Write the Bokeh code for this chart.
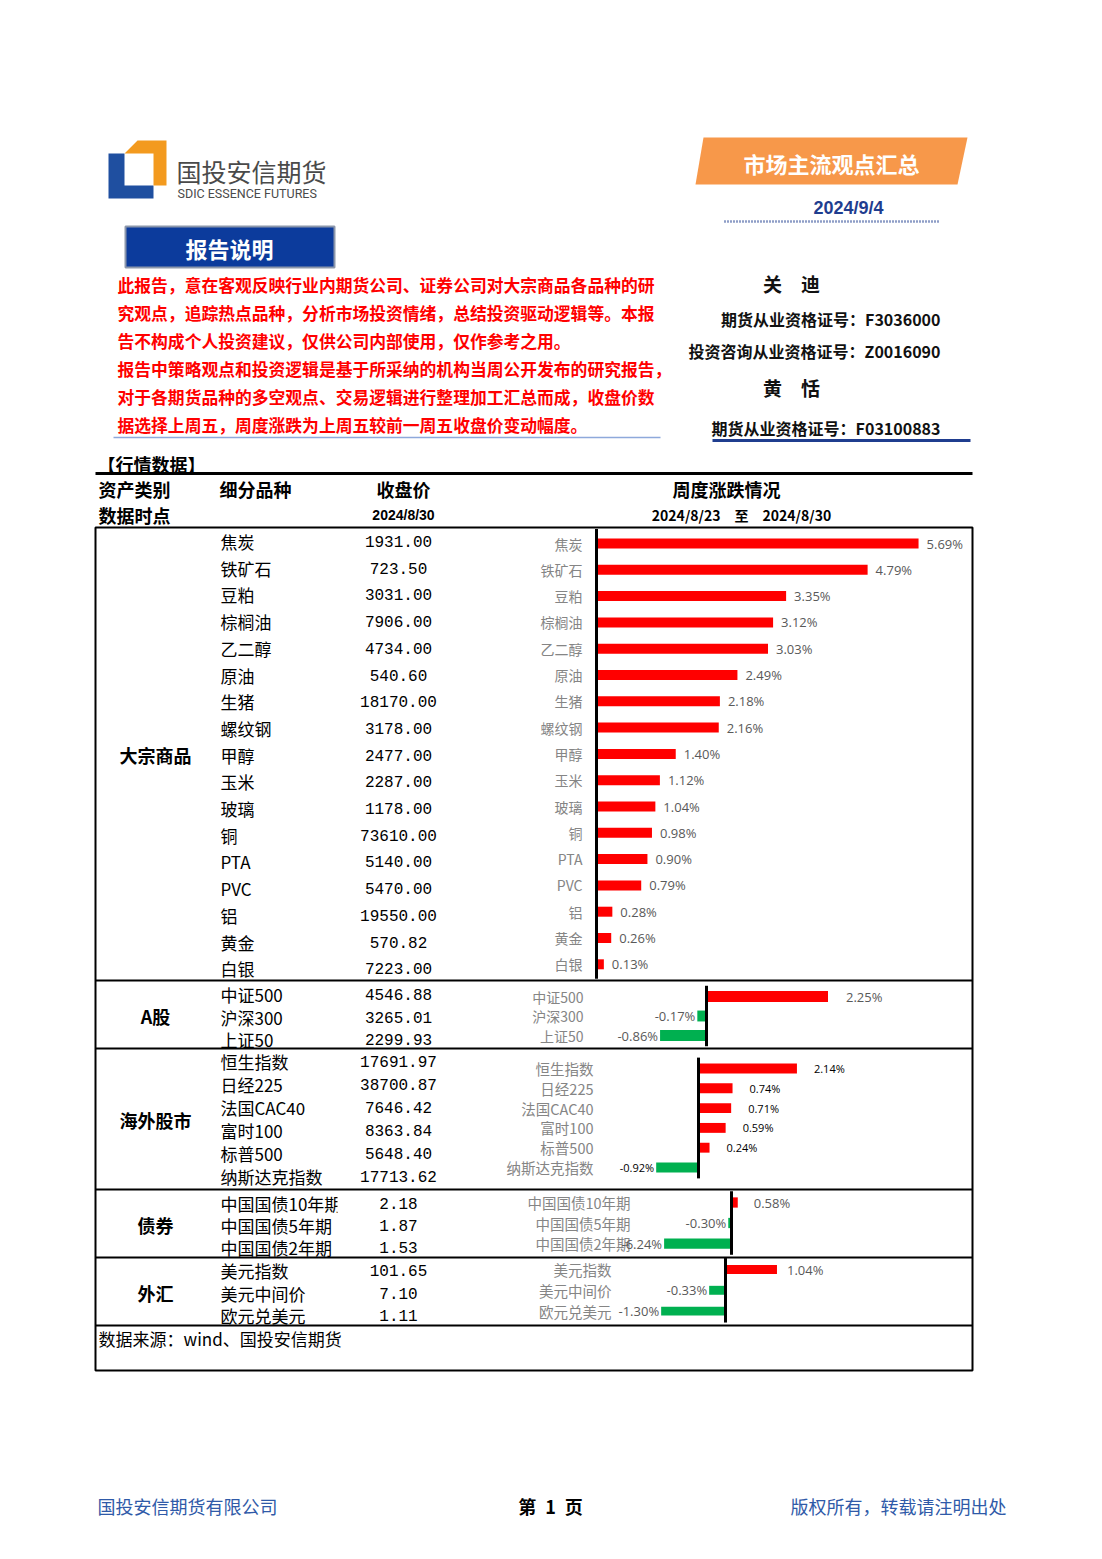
from bokeh.plotting import figure
from bokeh.models import Range1d, ColumnDataSource
from bokeh.embed import file_html
from bokeh.resources import INLINE
from bokeh.core.properties import value

# ---------------- data ----------------
report_date = "2024/9/4"
close_date = "2024/8/30"
week_span = "2024/8/23\u2002\u2002至\u2002\u20022024/8/30"

commodity_names = ["焦炭", "铁矿石", "豆粕", "棕榈油", "乙二醇", "原油", "生猪", "螺纹钢", "甲醇",
                   "玉米", "玻璃", "铜", "PTA", "PVC", "铝", "黄金", "白银"]
commodity_close = [1931.00, 723.50, 3031.00, 7906.00, 4734.00, 540.60, 18170.00, 3178.00, 2477.00,
                   2287.00, 1178.00, 73610.00, 5140.00, 5470.00, 19550.00, 570.82, 7223.00]
commodity_chg = [5.69, 4.79, 3.35, 3.12, 3.03, 2.49, 2.18, 2.16, 1.40,
                 1.12, 1.04, 0.98, 0.90, 0.79, 0.28, 0.26, 0.13]

ashare_names = ["中证500", "沪深300", "上证50"]
ashare_close = [4546.88, 3265.01, 2299.93]
ashare_chg = [2.25, -0.17, -0.86]

overseas_names = ["恒生指数", "日经225", "法国CAC40", "富时100", "标普500", "纳斯达克指数"]
overseas_close = [17691.97, 38700.87, 7646.42, 8363.84, 5648.40, 17713.62]
overseas_chg = [2.14, 0.74, 0.71, 0.59, 0.24, -0.92]

bond_names = ["中国国债10年期", "中国国债5年期", "中国国债2年期"]
bond_close = [2.18, 1.87, 1.53]
bond_chg = [0.58, -0.30, -6.24]

fx_names = ["美元指数", "美元中间价", "欧元兑美元"]
fx_close = [101.65, 7.10, 1.11]
fx_chg = [1.04, -0.33, -1.30]

intro_lines = [
    "此报告，意在客观反映行业内期货公司、证券公司对大宗商品各品种的研",
    "究观点，追踪热点品种，分析市场投资情绪，总结投资驱动逻辑等。本报",
    "告不构成个人投资建议，仅供公司内部使用，仅作参考之用。",
    "报告中策略观点和投资逻辑是基于所采纳的机构当周公开发布的研究报告，",
    "对于各期货品种的多空观点、交易逻辑进行整理加工汇总而成，收盘价数",
    "据选择上周五，周度涨跌为上周五较前一周五收盘价变动幅度。",
]

# ---------------- page canvas ----------------
W, H = 1102, 1559
CJK = "Noto Sans CJK SC"
MONO = "Liberation Mono"
RED, GREEN = "#FF0000", "#00B050"
NAVY = "#1F3D8F"

p = figure(width=W, height=H, x_range=Range1d(0, W), y_range=Range1d(H, 0),
           output_backend="svg", toolbar_location=None, min_border=0)
p.axis.visible = False
p.grid.visible = False
p.outline_line_color = None
p.background_fill_color = "white"
p.border_fill_color = "white"


def txt(x, y, s, size, color="#000000", bold=False, align="left", font=CJK):
    p.text(x=[x], y=[y], text=[s], text_font=value(font), text_font_size=f"{size}px",
           text_font_style="bold" if bold else "normal", text_color=color,
           text_align=align, text_baseline="middle")


def hline(x0, x1, y, w=2, color="#000000", dash="solid"):
    p.segment(x0=[x0], y0=[y], x1=[x1], y1=[y], line_width=w, line_color=color, line_dash=dash)


# ---------------- header ----------------
# company logo
p.patch([108, 124, 124, 153, 153, 108], [153, 153, 185, 185, 198, 198],
        fill_color="#1F4FA0", line_color=None)
p.patch([124, 137, 166, 166, 153, 153], [153, 140, 140, 185, 185, 153],
        fill_color="#F39A1E", line_color=None)
txt(176, 170, "国投安信期货", 25, "#4A4A4A")
txt(177, 193, "SDIC ESSENCE FUTURES", 12.5, "#4A4A4A", font="Roboto")

# title banner
p.patch([703, 967, 957, 695], [137, 137, 184, 184], fill_color="#F7984A", line_color=None)
txt(831, 162, "市场主流观点汇总", 22, "white", bold=True, align="center")
txt(848, 207, report_date, 18, NAVY, bold=True, align="center", font="Liberation Sans")
hline(724, 940, 221, w=2.5, color=NAVY, dash="1 2")

# report note box
p.quad(left=125, right=334, top=226, bottom=267, fill_color="#0C3B9C",
       line_color="#8C97AB", line_width=2)
txt(229, 247, "报告说明", 22, "white", bold=True, align="center")

for i, line in enumerate(intro_lines):
    txt(117, 284 + i * 28, line, 16.8, RED, bold=True)
hline(113, 660, 437, w=1.5, color="#8EA9DB")

# analysts
txt(791, 283, "关\u3000迪", 19, "#111111", bold=True, align="center")
txt(940, 318, "期货从业资格证号：F3036000", 16, "#111111", bold=True, align="right")
txt(940, 350, "投资咨询从业资格证号：Z0016090", 16, "#111111", bold=True, align="right")
txt(791, 387, "黄\u3000恬", 19, "#111111", bold=True, align="center")
txt(940, 427, "期货从业资格证号：F03100883", 16, "#111111", bold=True, align="right")
hline(712, 970, 440, w=3, color=NAVY)

# ---------------- table header ----------------
txt(97, 463, "【行情数据】", 18, bold=True)
hline(95, 972, 473, w=3)
txt(98, 488, "资产类别", 18, bold=True)
txt(219, 488, "细分品种", 18, bold=True)
txt(403, 488, "收盘价", 18, bold=True, align="center")
txt(726, 488, "周度涨跌情况", 18, bold=True, align="center")
txt(98, 514, "数据时点", 18, bold=True)
txt(403, 514, close_date, 14, bold=True, align="center", font="Liberation Sans")
txt(741, 514, week_span, 14, bold=True, align="center")

# table frame and section dividers
p.quad(left=95, right=972, top=527, bottom=1370, fill_color=None, line_color="#000000", line_width=2)
for yy in [980, 1048, 1189, 1257, 1325]:
    hline(95, 972, yy, w=2)

# ---------------- left columns: names and closing prices ----------------
sections = [
    ("大宗商品", commodity_names, commodity_close, 541, 26.7, 754),
    ("A股", ashare_names, ashare_close, 994, 22.5, 1015),
    ("海外股市", overseas_names, overseas_close, 1061, 23.0, 1119),
    ("债券", bond_names, bond_close, 1203, 22.0, 1224),
    ("外汇", fx_names, fx_close, 1270, 22.5, 1292),
]
for title, names, closes, y0, step, ty in sections:
    txt(155, ty, title, 18, bold=True, align="center")
    ys = [y0 + i * step for i in range(len(names))]
    p.text(x=[220] * len(names), y=ys, text=names, text_font=value(CJK),
           text_font_size="17px", text_color="#000000", text_baseline="middle")
    if title == "债券":
        # narrow name cell: long names are cut at the cell edge
        p.quad(left=337, right=362, top=1191, bottom=1255, fill_color="white", line_color=None)
    p.text(x=[398] * len(names), y=ys, text=[f"{v:.2f}" for v in closes],
           text_font=value(MONO), text_font_size="16px", text_color="#000000",
           text_align="center", text_baseline="middle")

txt(98, 1338, "数据来源：wind、国投安信期货", 17)

# ---------------- weekly change bar panels ----------------
panels = [
    dict(key="cmd", names=commodity_names, chg=commodity_chg, x0=596, scale=56.6, y0=543, dy=26.3,
         bar_h=0.38, gap=14, cat_size=14, off=8, lab_size=13, lab_color="#595959"),
    dict(key="ash", names=ashare_names, chg=ashare_chg, x0=706, scale=54.0, y0=996, dy=19.5,
         bar_h=0.56, gap=123, cat_size=14, off=18, lab_size=13, lab_color="#595959"),
    dict(key="ovs", names=overseas_names, chg=overseas_chg, x0=698, scale=46.0, y0=1068, dy=19.8,
         bar_h=0.5, gap=105, cat_size=14.5, off=17, lab_size=11, lab_color="#000000"),
    dict(key="bnd", names=bond_names, chg=bond_chg, x0=731, scale=10.8, y0=1202, dy=20.5,
         bar_h=0.5, gap=101, cat_size=14.5, off=16, lab_size=13, lab_color="#595959"),
    dict(key="fx", names=fx_names, chg=fx_chg, x0=725, scale=49.5, y0=1269, dy=20.8,
         bar_h=0.43, gap=114, cat_size=14.5, off=10, lab_size=13, lab_color="#595959"),
]

xr, yr = {}, {}
for pn in panels:
    xr[pn["key"]] = Range1d(-pn["x0"] / pn["scale"], (W - pn["x0"]) / pn["scale"])
    yr[pn["key"]] = Range1d((H - pn["y0"]) / pn["dy"], -pn["y0"] / pn["dy"])
p.extra_x_ranges = xr
p.extra_y_ranges = yr

for pn in panels:
    k = pn["key"]
    n = len(pn["names"])
    chg = pn["chg"]
    src = ColumnDataSource(dict(
        idx=list(range(n)),
        chg=chg,
        name=pn["names"],
        label=[f"{v:.2f}%" for v in chg],
        color=[RED if v >= 0 else GREEN for v in chg],
        align=["left" if v >= 0 else "right" for v in chg],
        xoff=[pn["off"] if v >= 0 else -2 for v in chg],
    ))
    p.hbar(y="idx", left=0, right="chg", height=pn["bar_h"], fill_color="color",
           line_color=None, source=src, x_range_name=k, y_range_name=k)
    p.segment(x0=[0], y0=[-0.55], x1=[0], y1=[n - 0.45], line_width=3, line_color="#000000",
              x_range_name=k, y_range_name=k)
    p.text(x=0, y="idx", text="name", x_offset=-pn["gap"], source=src,
           text_font=value(CJK), text_font_size=f"{pn['cat_size']}px", text_color="#858585",
           text_align="right", text_baseline="middle", x_range_name=k, y_range_name=k)
    p.text(x="chg", y="idx", text="label", x_offset="xoff", text_align="align", source=src,
           text_font=value("Open Sans"), text_font_size=f"{pn['lab_size']}px",
           text_color=pn["lab_color"], text_baseline="middle", x_range_name=k, y_range_name=k)

# ---------------- footer ----------------
txt(97, 1505, "国投安信期货有限公司", 18, "#2F5AA8")
txt(550, 1505, "第\u20021\u2002页", 18, "#000000", bold=True, align="center")
txt(1006, 1505, "版权所有，转载请注明出处", 18, "#2F5AA8", align="right")

open("out.html", "w").write(file_html(p, INLINE))
